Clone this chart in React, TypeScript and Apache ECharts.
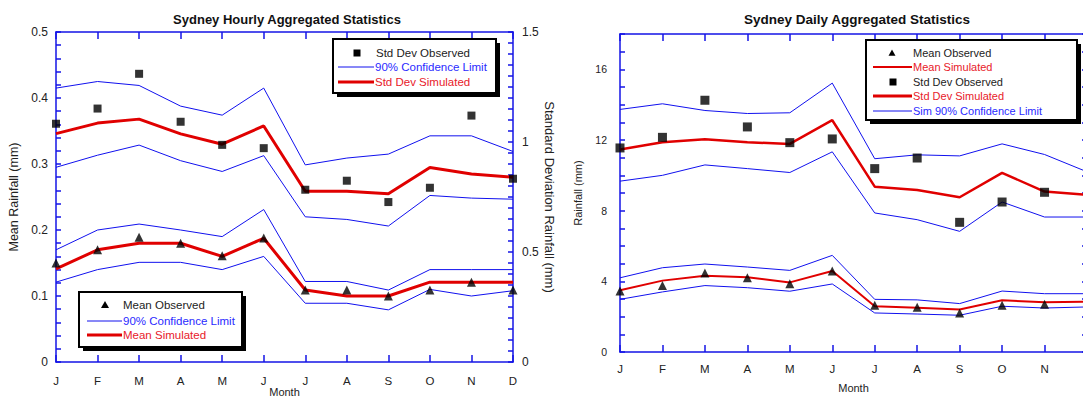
import React, { useEffect, useRef } from 'react';
import * as echarts from 'echarts';

const months = ['J', 'F', 'M', 'A', 'M', 'J', 'J', 'A', 'S', 'O', 'N', 'D'];

// Hourly chart — mean (left axis, mm)
const hourlyMeanObserved = [0.15, 0.17, 0.189, 0.18, 0.161, 0.188, 0.109, 0.109, 0.1, 0.109, 0.121, 0.109];
const hourlyMeanSimulated = [0.141, 0.17, 0.18, 0.18, 0.16, 0.1875, 0.109, 0.1, 0.1, 0.121, 0.121, 0.121];
const hourlyMeanUpper = [0.17, 0.2, 0.209, 0.2, 0.19, 0.231, 0.122, 0.122, 0.109, 0.14, 0.14, 0.14];
const hourlyMeanLower = [0.121, 0.14, 0.151, 0.151, 0.14, 0.16, 0.089, 0.089, 0.079, 0.11, 0.1, 0.108];
// Hourly chart — standard deviation (right axis, mm)
const hourlySdObserved = [1.083, 1.152, 1.31, 1.092, 0.987, 0.972, 0.783, 0.824, 0.727, 0.792, 1.12, 0.833];
const hourlySdSimulated = [1.038, 1.086, 1.104, 1.037, 0.99, 1.073, 0.776, 0.776, 0.765, 0.884, 0.855, 0.84];
const hourlySdUpper = [1.245, 1.275, 1.257, 1.163, 1.122, 1.245, 0.896, 0.927, 0.945, 1.028, 1.028, 0.957];
const hourlySdLower = [0.885, 0.94, 0.986, 0.915, 0.866, 0.938, 0.66, 0.648, 0.618, 0.757, 0.745, 0.74];

// Daily chart (mm)
const dailyMeanObserved = [3.45, 3.77, 4.47, 4.2, 3.87, 4.58, 2.64, 2.53, 2.21, 2.64, 2.7, null];
const dailyMeanSimulated = [3.49, 4.04, 4.32, 4.23, 3.94, 4.58, 2.59, 2.51, 2.4, 2.93, 2.81, 2.85];
const dailyMeanUpper = [4.2, 4.77, 4.98, 4.81, 4.62, 5.47, 2.98, 2.95, 2.74, 3.45, 3.3, 3.3];
const dailyMeanLower = [2.98, 3.4, 3.76, 3.64, 3.44, 3.85, 2.21, 2.15, 2.08, 2.59, 2.49, 2.55];
const dailySdObserved = [11.55, 12.15, 14.25, 12.74, 11.85, 12.06, 10.38, 10.98, 7.34, 8.49, 9.04, null];
const dailySdSimulated = [11.46, 11.87, 12.04, 11.87, 11.78, 13.12, 9.36, 9.17, 8.76, 10.14, 9.08, 8.9];
const dailySdUpper = [13.73, 14.05, 13.67, 13.5, 13.54, 15.22, 10.94, 11.16, 11.1, 11.78, 11.18, 10.2];
const dailySdLower = [9.67, 10.0, 10.59, 10.38, 10.16, 11.33, 7.87, 7.49, 6.83, 8.49, 7.64, 7.64];

const FONT = '"Liberation Sans", Arial, sans-serif';
const AXIS = '#1414e6';
const BLUE = '#1010ee';
const RED = '#e00000';
const TXT = '#222';
const BLUE_TXT = '#2a2aff';
const RED_TXT = '#e8202a';

function xAxisDef(grid: number, pos: 'top' | 'bottom', margin: number, nameGap: number) {
  const bottom = pos === 'bottom';
  return {
    type: 'category',
    gridIndex: grid,
    position: pos,
    data: months,
    boundaryGap: false,
    axisLine: { show: true, onZero: false, lineStyle: { color: AXIS, width: 1.5 } },
    axisTick: { show: true, inside: true, length: 7, lineStyle: { color: AXIS, width: 1.5 } },
    axisLabel: { show: bottom, interval: 0, color: TXT, fontSize: 11.5, margin, fontFamily: FONT },
    splitLine: { show: false },
    name: bottom ? 'Month' : '',
    nameLocation: 'middle',
    nameGap,
    nameMoveOverlap: false,
    nameTextStyle: { color: TXT, fontSize: 11, fontFamily: FONT },
  };
}

function line(name: string, data: any[], xi: number, yi: number, color: string, width: number) {
  return {
    name,
    type: 'line',
    xAxisIndex: xi,
    yAxisIndex: yi,
    data,
    symbol: 'none',
    lineStyle: { color, width },
    itemStyle: { color },
    z: 2,
  };
}

function marks(name: string, data: any[], xi: number, yi: number, symbol: string, size: number) {
  return {
    name,
    type: 'scatter',
    xAxisIndex: xi,
    yAxisIndex: yi,
    data,
    symbol,
    symbolSize: size,
    itemStyle: { color: '#000' },
    z: 5,
  };
}

function legendBox(x: number, y: number, w: number, h: number) {
  return [
    { type: 'rect', shape: { x: x + 4, y: y + 4, width: w, height: h }, style: { fill: '#000' }, z: 10 },
    { type: 'rect', shape: { x, y, width: w, height: h }, style: { fill: '#fff', stroke: '#000', lineWidth: 2 }, z: 11 },
  ];
}

function lText(x: number, y: number, text: string, fill: string, size = 11.5) {
  return {
    type: 'text',
    x,
    y,
    z: 12,
    style: { text, fill, font: `${size}px ${FONT}`, textVerticalAlign: 'middle', verticalAlign: 'middle' },
  };
}

function lLine(x1: number, x2: number, y: number, color: string, w: number) {
  return { type: 'line', shape: { x1, y1: y, x2, y2: y }, style: { stroke: color, lineWidth: w }, z: 12 };
}

function tri(x: number, y: number, s = 4) {
  return {
    type: 'polygon',
    shape: { points: [[x, y - s], [x + s, y + s * 0.75], [x - s, y + s * 0.75]] },
    style: { fill: '#000' },
    z: 12,
  };
}

function sq(x: number, y: number, s = 7) {
  return { type: 'rect', shape: { x: x - s / 2, y: y - s / 2, width: s, height: s }, style: { fill: '#000' }, z: 12 };
}

const tickStyle = { color: AXIS, width: 1.5 };

export default function App() {
  const ref = useRef<HTMLDivElement>(null);
  useEffect(() => {
    document.body.style.margin = '0';
    document.body.style.overflow = 'hidden';
    if (!ref.current) return;
    const chart = echarts.init(ref.current, undefined, { renderer: 'svg' });

    const option: any = {
      animation: false,
      backgroundColor: '#fff',
      textStyle: { fontFamily: FONT },
      grid: [
        { left: 56, top: 32, width: 457, height: 330, outerBoundsMode: 'none', containLabel: false },
        { left: 620, top: 34, width: 467, height: 318, outerBoundsMode: 'none', containLabel: false },
      ],
      xAxis: [
        xAxisDef(0, 'bottom', 13, 24),
        xAxisDef(0, 'top', 8, 0),
        xAxisDef(1, 'bottom', 11, 30),
        xAxisDef(1, 'top', 8, 0),
      ],
      yAxis: [
        {
          type: 'value', gridIndex: 0, position: 'left', min: 0, max: 0.5, interval: 0.02,
          axisLine: { show: true, lineStyle: tickStyle },
          axisTick: { show: true, inside: true, length: 5, lineStyle: tickStyle },
          splitLine: { show: false },
          axisLabel: {
            color: TXT, fontSize: 12, margin: 8, fontFamily: FONT, showMaxLabel: true, showMinLabel: true,
            formatter: (v: number) => {
              const r = Math.round(v * 50);
              return r % 5 === 0 ? String(r / 50) : '';
            },
          },
          name: 'Mean Rainfall (mm)', nameLocation: 'middle', nameGap: 36,
          nameTextStyle: { color: TXT, fontSize: 12.5, fontFamily: FONT },
        },
        {
          type: 'value', gridIndex: 0, position: 'right', min: 0, max: 1.5, interval: 0.05,
          axisLine: { show: true, lineStyle: tickStyle },
          axisTick: { show: true, inside: true, length: 5, lineStyle: tickStyle },
          splitLine: { show: false },
          axisLabel: {
            color: TXT, fontSize: 12, margin: 9, fontFamily: FONT, showMaxLabel: true, showMinLabel: true,
            formatter: (v: number) => {
              const r = Math.round(v * 20);
              return r % 10 === 0 ? String(r / 20) : '';
            },
          },
          name: 'Standard Deviation Rainfall (mm)', nameLocation: 'middle', nameGap: 30, nameRotate: -90,
          nameTextStyle: { color: TXT, fontSize: 13, fontFamily: FONT },
        },
        {
          type: 'value', gridIndex: 1, position: 'left', min: 0, max: 18, interval: 1,
          axisLine: { show: true, lineStyle: tickStyle },
          axisTick: { show: true, inside: true, length: 5, lineStyle: tickStyle },
          splitLine: { show: false },
          axisLabel: {
            color: TXT, fontSize: 10.5, margin: 13, fontFamily: FONT,
            formatter: (v: number) => (v % 4 === 0 ? String(v) : ''),
          },
          name: 'Rainfall (mm)', nameLocation: 'middle', nameGap: 37,
          nameTextStyle: { color: TXT, fontSize: 11, fontFamily: FONT },
        },
        {
          type: 'value', gridIndex: 1, position: 'right', min: 0, max: 18, interval: 1,
          axisLine: { show: true, lineStyle: tickStyle },
          axisTick: { show: true, inside: true, length: 5, lineStyle: tickStyle },
          splitLine: { show: false },
          axisLabel: { show: false },
        },
      ],
      series: [
        line('Mean 90% Upper', hourlyMeanUpper, 0, 0, BLUE, 1),
        line('Mean 90% Lower', hourlyMeanLower, 0, 0, BLUE, 1),
        line('Mean Simulated', hourlyMeanSimulated, 0, 0, RED, 3),
        marks('Mean Observed', hourlyMeanObserved, 0, 0, 'triangle', 9),
        line('Std Dev 90% Upper', hourlySdUpper, 0, 1, BLUE, 1),
        line('Std Dev 90% Lower', hourlySdLower, 0, 1, BLUE, 1),
        line('Std Dev Simulated', hourlySdSimulated, 0, 1, RED, 3),
        marks('Std Dev Observed', hourlySdObserved, 0, 1, 'rect', 8),

        line('Daily Mean 90% Upper', dailyMeanUpper, 2, 2, BLUE, 1),
        line('Daily Mean 90% Lower', dailyMeanLower, 2, 2, BLUE, 1),
        line('Daily Mean Simulated', dailyMeanSimulated, 2, 2, RED, 2),
        marks('Daily Mean Observed', dailyMeanObserved, 2, 2, 'triangle', 9),
        line('Daily Std Dev 90% Upper', dailySdUpper, 2, 2, BLUE, 1),
        line('Daily Std Dev 90% Lower', dailySdLower, 2, 2, BLUE, 1),
        line('Daily Std Dev Simulated', dailySdSimulated, 2, 2, RED, 2.5),
        marks('Daily Std Dev Observed', dailySdObserved, 2, 2, 'rect', 9),
      ],
      graphic: [
        {
          type: 'text', x: 287, y: 19, z: 12,
          style: { text: 'Sydney Hourly Aggregated Statistics', fill: '#111', font: `bold 13px ${FONT}`, textAlign: 'center', textVerticalAlign: 'middle', align: 'center', verticalAlign: 'middle' },
        },
        {
          type: 'text', x: 857, y: 19, z: 12,
          style: { text: 'Sydney Daily Aggregated Statistics', fill: '#111', font: `bold 13.5px ${FONT}`, textAlign: 'center', textVerticalAlign: 'middle', align: 'center', verticalAlign: 'middle' },
        },
        // Hourly std dev legend
        ...legendBox(333, 39, 163, 54),
        sq(357, 53, 7),
        lText(376, 53, 'Std Dev Observed', TXT),
        lLine(338, 374, 67, BLUE, 1),
        lText(375, 67, '90% Confidence Limit', BLUE_TXT),
        lLine(338, 374, 82, RED, 3),
        lText(375, 82, 'Std Dev Simulated', RED_TXT),
        // Hourly mean legend
        ...legendBox(79, 292, 163, 55),
        tri(105, 305, 4),
        lText(123, 305, 'Mean Observed', TXT),
        lLine(87, 122, 321, BLUE, 1),
        lText(123, 321, '90% Confidence Limit', BLUE_TXT),
        lLine(87, 122, 335, RED, 3),
        lText(123, 335, 'Mean Simulated', RED_TXT),
        // Daily legend
        ...legendBox(866, 40, 211, 80),
        tri(892, 53, 3.5),
        lText(913, 53, 'Mean Observed', TXT, 11),
        lLine(873, 912, 67, RED, 2),
        lText(913, 67, 'Mean Simulated', RED_TXT, 11),
        sq(893, 82, 7),
        lText(913, 82, 'Std Dev Observed', TXT, 11),
        lLine(873, 912, 96, RED, 3),
        lText(913, 96, 'Std Dev Simulated', RED_TXT, 11),
        lLine(873, 912, 111, BLUE, 1),
        lText(913, 111, 'Sim 90% Confidence Limit', BLUE_TXT, 11),
      ],
    };

    chart.setOption(option);
    return () => chart.dispose();
  }, []);

  return <div ref={ref} style={{ width: 1083, height: 399 }} />;
}
